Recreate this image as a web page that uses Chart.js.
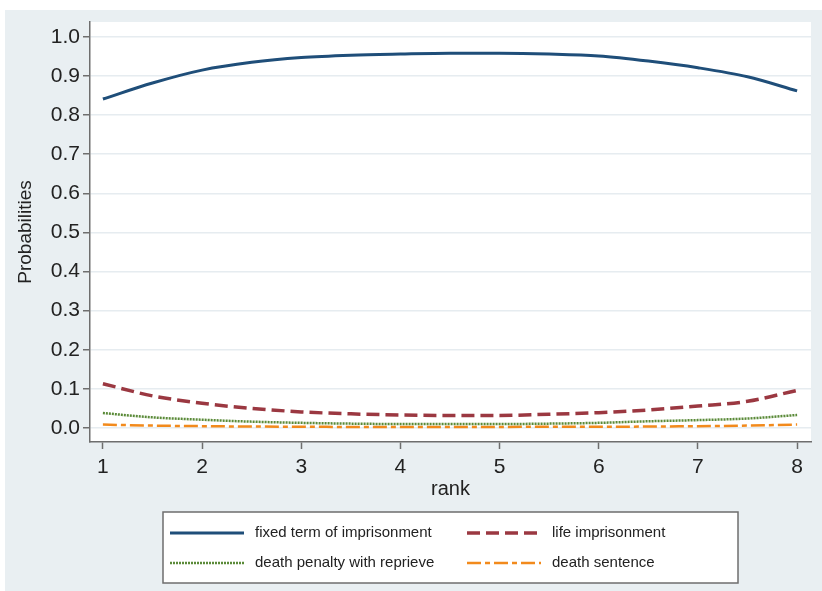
<!DOCTYPE html>
<html>
<head>
<meta charset="utf-8">
<script src="https://cdn.jsdelivr.net/npm/chart.js@4/dist/chart.umd.min.js"></script>
<style>
  html, body { margin: 0; padding: 0; background: #ffffff; }
  #wrap { width: 822px; height: 591px; }
</style>
</head>
<body>
<div id="wrap"><canvas id="probChart" width="822" height="591"></canvas></div>
<script>
// values
const ranks = [1, 1.5, 2, 2.5, 3, 3.5, 4, 4.5, 5, 5.5, 6, 6.5, 7, 7.5, 8];
const fixedTerm = [0.841, 0.882, 0.915, 0.935, 0.947, 0.953, 0.956, 0.958, 0.958, 0.956, 0.951, 0.938, 0.921, 0.898, 0.862];
const lifeImpr = [0.113, 0.082, 0.063, 0.050, 0.041, 0.036, 0.033, 0.032, 0.032, 0.035, 0.039, 0.046, 0.056, 0.068, 0.096];
const reprieve = [0.038, 0.027, 0.021, 0.016, 0.013, 0.011, 0.010, 0.010, 0.010, 0.011, 0.013, 0.017, 0.020, 0.024, 0.033];
const deathSent = [0.0085, 0.006, 0.0045, 0.0035, 0.003, 0.0025, 0.0025, 0.0025, 0.0025, 0.003, 0.003, 0.0035, 0.0045, 0.006, 0.0085];

const yTicks = [0, 0.1, 0.2, 0.3, 0.4, 0.5, 0.6, 0.7, 0.8, 0.9, 1.0];
const xTicks = [1, 2, 3, 4, 5, 6, 7, 8];
const legendLabels = ["fixed term of imprisonment", "life imprisonment", "death penalty with reprieve", "death sentence"];

const FONT = "'Liberation Sans', Arial, sans-serif";

function toPoints(vals) {
    return ranks.map((r, i) => ({ x: r, y: vals[i] }));
}

// gray outer background + white plot region
const backgroundPlugin = {
    id: "bgPanels",
    beforeDraw(chart) {
        const ctx = chart.ctx;
        const a = chart.chartArea;
        ctx.save();
        ctx.fillStyle = "#ffffff";
        ctx.fillRect(0, 0, chart.width, chart.height);
        ctx.fillStyle = "#e9eff2";
        ctx.fillRect(5, 10, chart.width - 5, chart.height - 10);
        ctx.fillStyle = "#ffffff";
        ctx.fillRect(a.left, a.top, a.right - a.left, a.bottom - a.top);
        ctx.restore();
    }
};

// Stata style legend box under the plot
const legendBoxPlugin = {
    id: "legendBox",
    afterDraw(chart) {
        const ctx = chart.ctx;
        const box = { x: 163, y: 512, w: 575, h: 71 };
        ctx.save();
        ctx.fillStyle = "#ffffff";
        ctx.fillRect(box.x, box.y, box.w, box.h);
        ctx.strokeStyle = "#6e6e6e";
        ctx.lineWidth = 1.5;
        ctx.strokeRect(box.x, box.y, box.w, box.h);

        const cols = [{ lx: 170, tx: 255 }, { lx: 467, tx: 552 }];
        const rows = [533, 563];
        ctx.font = "15px " + FONT;
        ctx.textBaseline = "middle";
        chart.data.datasets.forEach((ds, i) => {
            const c = cols[i % 2];
            const y = rows[Math.floor(i / 2)];
            ctx.strokeStyle = ds.borderColor;
            ctx.lineWidth = ds.borderWidth;
            ctx.setLineDash(ds.borderDash || []);
            ctx.beginPath();
            ctx.moveTo(c.lx, y);
            ctx.lineTo(c.lx + 74, y);
            ctx.stroke();
            ctx.setLineDash([]);
            ctx.fillStyle = "#222222";
            ctx.fillText(legendLabels[i], c.tx, y);
        });
        ctx.restore();
    }
};

const ctx = document.getElementById("probChart").getContext("2d");

new Chart(ctx, {
    type: "line",
    data: {
        datasets: [
            {
                label: legendLabels[0],
                data: toPoints(fixedTerm),
                borderColor: "#1f4e79",
                borderWidth: 3
            },
            {
                label: legendLabels[1],
                data: toPoints(lifeImpr),
                borderColor: "#9b3841",
                borderWidth: 3.5,
                borderDash: [13, 6]
            },
            {
                label: legendLabels[2],
                data: toPoints(reprieve),
                borderColor: "#5a8a38",
                borderWidth: 2.5,
                borderDash: [2, 1]
            },
            {
                label: legendLabels[3],
                data: toPoints(deathSent),
                borderColor: "#f28a1c",
                borderWidth: 2.5,
                borderDash: [14, 4, 5, 4]
            }
        ]
    },
    options: {
        responsive: false,
        animation: false,
        devicePixelRatio: 1,
        layout: { padding: { left: 0, right: 11, top: 22, bottom: 89 } },
        elements: {
            point: { radius: 0 },
            line: { cubicInterpolationMode: "monotone", fill: false }
        },
        plugins: {
            legend: { display: false },
            tooltip: { enabled: false }
        },
        scales: {
            x: {
                type: "linear",
                min: 0.87,
                max: 8.14,
                afterFit: (s) => { s.height = 60; },
                afterBuildTicks: (s) => { s.ticks = xTicks.map(v => ({ value: v })); },
                grid: {
                    drawOnChartArea: false,
                    tickLength: 7,
                    tickColor: "#6e6e6e",
                    tickWidth: 1.5
                },
                border: { color: "#6e6e6e", width: 1.5 },
                ticks: {
                    color: "#222222",
                    padding: 6,
                    maxRotation: 0,
                    font: { family: FONT, size: 21 },
                    callback: (v) => String(v)
                },
                title: {
                    display: true,
                    text: "rank",
                    color: "#222222",
                    font: { family: FONT, size: 20 },
                    padding: { top: 0, bottom: 1 }
                }
            },
            y: {
                type: "linear",
                min: -0.036,
                max: 1.038,
                afterFit: (s) => { s.width = 90; },
                afterBuildTicks: (s) => { s.ticks = yTicks.map(v => ({ value: v })); },
                grid: {
                    color: "#e6ecf0",
                    lineWidth: 1.5,
                    tickLength: 7,
                    tickColor: "#6e6e6e",
                    tickWidth: 1.5
                },
                border: { color: "#6e6e6e", width: 1.5 },
                ticks: {
                    color: "#222222",
                    padding: 3,
                    font: { family: FONT, size: 21 },
                    callback: (v) => v.toFixed(1)
                },
                title: {
                    display: true,
                    text: "Probabilities",
                    color: "#222222",
                    font: { family: FONT, size: 19 },
                    padding: { top: 14, bottom: 0 }
                }
            }
        }
    },
    plugins: [backgroundPlugin, legendBoxPlugin]
});
</script>
</body>
</html>
